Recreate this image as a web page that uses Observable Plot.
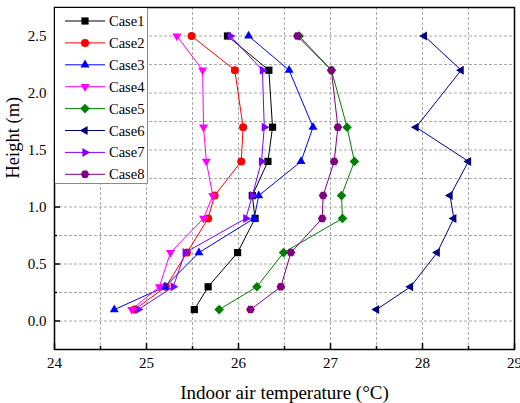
<!DOCTYPE html>
<html>
<head>
<meta charset="utf-8">
<script src="https://cdn.jsdelivr.net/npm/d3@7"></script>
<script src="https://cdn.jsdelivr.net/npm/@observablehq/plot@0.6"></script>
<style>
  html, body { margin: 0; padding: 0; background: #fff; font-family: "Liberation Serif", serif; }
  #wrap { position: relative; width: 520px; height: 403px; }
  #legend { position: absolute; left: 55px; top: 8px; }
  svg, svg text { font-family: "Liberation Serif", serif !important; }
</style>
</head>
<body>
<div id="wrap"><div id="chart"></div><div id="legend"></div></div>
<script>
// ---- data ----
const heights = [0.1, 0.3, 0.6, 0.9, 1.1, 1.4, 1.7, 2.2, 2.5];
const case1 = [25.52, 25.67, 25.99, 26.18, 26.15, 26.32, 26.37, 26.33, 25.88];
const case2 = [24.87, 25.21, 25.44, 25.67, 25.74, 26.03, 26.05, 25.96, 25.49];
const case3 = [24.65, 25.20, 25.57, 26.17, 26.22, 26.68, 26.81, 26.55, 26.11];
const case4 = [24.84, 25.14, 25.26, 25.62, 25.72, 25.65, 25.62, 25.61, 25.33];
const case5 = [25.79, 26.20, 26.49, 27.13, 27.12, 27.26, 27.18, 27.01, 26.66];
const case6 = [27.50, 27.87, 28.16, 28.34, 28.30, 28.50, 27.93, 28.42, 28.02];
const case7 = [24.91, 25.29, 25.42, 26.08, 26.15, 26.25, 26.28, 26.26, 25.91];
const case8 = [26.13, 26.46, 26.57, 26.91, 26.92, 27.04, 27.08, 27.01, 26.64];
const caseNames = ["Case1", "Case2", "Case3", "Case4", "Case5", "Case6", "Case7", "Case8"];
const caseValues = [case1, case2, case3, case4, case5, case6, case7, case8];
const caseColors = ["#000000", "#ff0000", "#0000ff", "#ff00ff", "#008000", "#000080", "#8000ff", "#800080"];
const xTickValues = [24, 25, 26, 27, 28, 29];
const xMinorValues = [24.5, 25.5, 26.5, 27.5, 28.5];
const yTickValues = [0, 0.5, 1.0, 1.5, 2.0, 2.5];
const yMinorValues = [0.25, 0.75, 1.25, 1.75, 2.25];
const xLabel = "Indoor air temperature (°C)";
const yLabel = "Height (m)";

const FONT = "Liberation Serif, serif";

// ---- symbols ----
const rOf = s => Math.sqrt(s / Math.PI);
function polySym(n, startDeg, scale) {
  return {draw(c, s) {
    const R = rOf(s) * scale;
    for (let k = 0; k < n; k++) {
      const a = (startDeg + k * 360 / n) * Math.PI / 180;
      const x = R * Math.cos(a), y = R * Math.sin(a);
      if (k === 0) c.moveTo(x, y); else c.lineTo(x, y);
    }
    c.closePath();
  }};
}
const symSquare = {draw(c, s) { const r = rOf(s) * 0.9; c.rect(-r, -r, 2 * r, 2 * r); }};
const symCircle = {draw(c, s) { const r = rOf(s); c.moveTo(r, 0); c.arc(0, 0, r, 0, 2 * Math.PI); }};
const symbols = [
  symSquare,
  symCircle,
  polySym(3, -90, 1.3),   // up triangle
  polySym(3, 90, 1.3),    // down triangle
  polySym(4, 0, 1.2),     // diamond
  polySym(3, 180, 1.3),   // left triangle
  polySym(3, 0, 1.3),     // right triangle
  polySym(6, 0, 1.08)     // hexagon
];
const R = 4;

const rows = caseNames.map((name, i) => heights.map((h, j) => ({name, h, t: caseValues[i][j]})));

const plotW = 520, plotH = 403, mL = 54, mR = 6, mT = 7, mB = 54;
const innerW = plotW - mL - mR, innerH = plotH - mT - mB;

const gridStyle = {stroke: "#a8a8a8", strokeOpacity: 1, strokeWidth: 1, strokeDasharray: "3,2"};

const marks = [
  Plot.gridX(xMinorValues.concat(xTickValues.slice(1, -1)), gridStyle),
  Plot.gridY(yTickValues.concat(yMinorValues), gridStyle),
  Plot.axisX(xTickValues, {tickSize: 0, tickPadding: 8, fontSize: 15, fontFamily: FONT, label: null}),
  Plot.axisY(yTickValues, {tickSize: 0, tickPadding: 8, fontSize: 15, fontFamily: FONT, tickFormat: d3.format(".1f"), label: null}),
  Plot.tickX(xTickValues, {x: d => d, stroke: "black", strokeWidth: 1.5, insetTop: innerH - 6}),
  Plot.tickX(xMinorValues, {x: d => d, stroke: "black", strokeWidth: 1.5, insetTop: innerH - 3}),
  Plot.tickY(yTickValues, {y: d => d, stroke: "black", strokeWidth: 1.5, insetRight: innerW - 6}),
  Plot.tickY(yMinorValues, {y: d => d, stroke: "black", strokeWidth: 1.5, insetRight: innerW - 3}),
  Plot.text([xLabel], {text: d => d, frameAnchor: "bottom", dy: 49, fontSize: 19, fontFamily: FONT}),
  Plot.text([yLabel], {text: d => d, frameAnchor: "left", rotate: -90, dx: -41, fontSize: 18.5, fontFamily: FONT})
];
rows.forEach((data, i) => {
  marks.push(Plot.line(data, {x: "t", y: "h", stroke: caseColors[i], strokeWidth: 1}));
  marks.push(Plot.dot(data, {x: "t", y: "h", symbol: symbols[i], fill: caseColors[i], stroke: "none", r: R}));
});
marks.push(Plot.frame({stroke: "black", strokeWidth: 1.5}));

const chart = Plot.plot({
  width: plotW, height: plotH,
  marginLeft: mL, marginRight: mR, marginTop: mT, marginBottom: mB,
  x: {domain: [24, 29]},
  y: {domain: [-0.25, 2.75]},
  style: {fontFamily: FONT, fontSize: "15px", color: "black", background: "white"},
  marks
});
document.getElementById("chart").appendChild(chart);

// ---- legend (box inside plot at top-left) ----
const lw = 93, lh = 176;
const lg = d3.select("#legend").append("svg").attr("width", lw).attr("height", lh)
  .style("font-family", FONT);
lg.append("rect").attr("x", 0).attr("y", 0).attr("width", lw - 0.5).attr("height", lh - 0.5)
  .attr("fill", "white").attr("stroke", "none");
lg.append("path").attr("d", `M${lw - 0.5},0V${lh - 0.5}H0`).attr("fill", "none").attr("stroke", "#888").attr("stroke-width", 1);
caseNames.forEach((name, i) => {
  const cy = 13 + i * 21.9;
  lg.append("line").attr("x1", 10).attr("x2", 50).attr("y1", cy).attr("y2", cy)
    .attr("stroke", caseColors[i]).attr("stroke-width", 1);
  const p = d3.path();
  symbols[i].draw(p, R * R * Math.PI);
  lg.append("path").attr("d", p.toString()).attr("transform", `translate(30,${cy})`).attr("fill", caseColors[i]);
  lg.append("text").attr("x", 54).attr("y", cy).attr("dy", "0.35em").attr("font-size", 14.5).text(name);
});
</script>
</body>
</html>
